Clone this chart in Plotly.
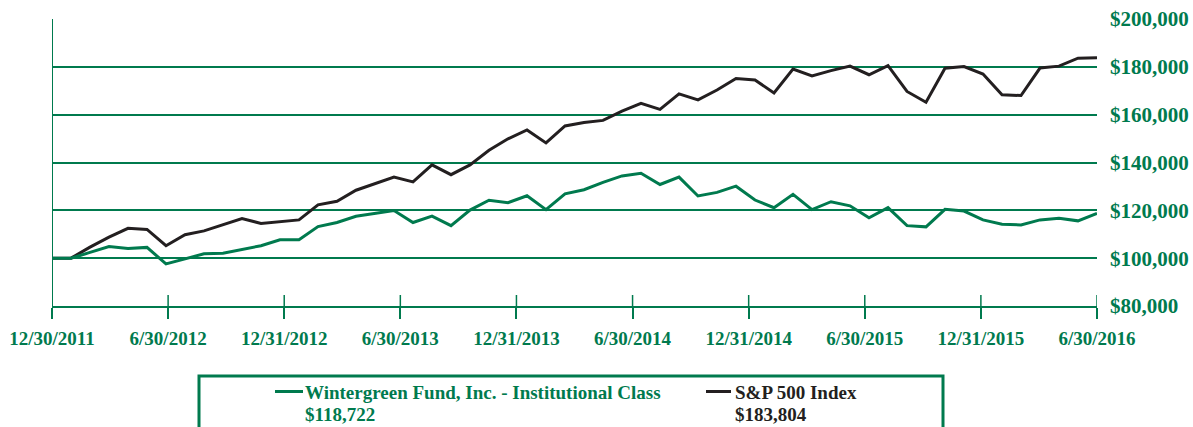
import numpy as np
import plotly.graph_objects as go

# ---------------- data (values in US$) ----------------
tick_labels = ["12/30/2011", "6/30/2012", "12/31/2012", "6/30/2013", "12/31/2013",
               "6/30/2014", "12/31/2014", "6/30/2015", "12/31/2015", "6/30/2016"]

fund_name = "Wintergreen Fund, Inc. - Institutional Class"
fund_values = [100.0, 100.0, 102.4, 104.9, 104.0, 104.5, 97.6, 99.8, 101.8, 102.1,
               103.6, 105.2, 107.7, 107.7, 113.2, 114.9, 117.5, 118.75, 119.9, 114.9,
               117.6, 113.6, 120.1, 124.2, 123.2, 126.1, 120.3, 126.9, 128.6, 131.7,
               134.4, 135.5, 130.8, 133.9, 126.0, 127.5, 130.1, 124.3, 121.1, 126.7,
               120.3, 123.6, 121.9, 116.9, 121.1, 113.6, 113.1, 120.4, 119.7, 116.0,
               114.2, 113.9, 116.0, 116.7, 115.6, 118.722]

index_name = "S&P 500 Index"
index_values = [100.0, 100.0, 104.6, 108.8, 112.5, 112.0, 105.2, 109.8, 111.4, 113.9,
                116.6, 114.5, 115.1, 116.0, 122.3, 123.8, 128.4, 131.3, 133.9, 131.9,
                139.0, 134.9, 139.0, 145.1, 149.9, 153.6, 148.2, 155.3, 156.7, 157.6,
                161.5, 164.7, 162.2, 168.7, 166.2, 170.3, 175.1, 174.5, 169.1, 179.1,
                176.2, 178.4, 180.3, 176.7, 180.5, 169.7, 165.2, 179.4, 180.1, 177.0,
                168.3, 168.0, 179.5, 180.3, 183.6, 183.804]

y_ticks = [80000, 100000, 120000, 140000, 160000, 180000, 200000]

title_text = "Investing $100,000, Institutional Class Compared to the S&P 500 Index"

# ---------------- styling ----------------
GREEN = "#007A4E"
BLACK = "#231F20"
W, H = 1193, 427
L, R, T, B = 52, 96, 19, 121
PW, PH = W - L - R, H - T - B

def px(xp):
    return (xp - L) / PW

def py(yp):
    return (H - B - yp) / PH

fund = np.array(fund_values) * 1000
spx = np.array(index_values) * 1000
x = np.arange(len(fund))
tickvals = np.linspace(0, len(fund) - 1, len(tick_labels))

fig = go.Figure()
fig.add_trace(go.Scatter(x=x, y=spx, mode="lines", name=index_name,
                         line=dict(color=BLACK, width=3)))
fig.add_trace(go.Scatter(x=x, y=fund, mode="lines", name=fund_name,
                         line=dict(color=GREEN, width=3)))

xfont = dict(family="Liberation Serif", size=19, color=GREEN, weight="bold")
yfont = dict(family="Liberation Serif", size=21, color=GREEN, weight="bold")

fig.update_layout(
    width=W, height=H,
    margin=dict(l=L, r=R, t=T, b=B, pad=0, autoexpand=False),
    paper_bgcolor="white", plot_bgcolor="white",
    showlegend=False,
    xaxis=dict(range=[0, len(fund) - 1], tickvals=tickvals, ticktext=tick_labels,
               showgrid=False, zeroline=False, automargin=False,
               showline=True, linecolor=GREEN, linewidth=2,
               ticks="outside", ticklen=11, tickcolor=GREEN, tickwidth=1.5,
               tickfont=xfont, ticklabelstandoff=3),
    yaxis=dict(range=[80000, 200000], tickvals=y_ticks,
               ticktext=[f"${v:,.0f}" for v in y_ticks], automargin=False,
               side="right", showgrid=True, gridcolor=GREEN, gridwidth=1.5,
               zeroline=False, showline=False, ticks="",
               tickfont=yfont, ticklabelstandoff=12),
)

shapes = []
# upper halves of the crossing x ticks
for tv in tickvals:
    shapes.append(dict(type="line", xref="x", yref="paper", x0=tv, x1=tv,
                       y0=0, y1=py(295), line=dict(color=GREEN, width=1.5)))
# left frame line
shapes.append(dict(type="line", xref="x", yref="paper", x0=0, x1=0, y0=0, y1=1,
                   line=dict(color=GREEN, width=2)))
# legend box
shapes.append(dict(type="rect", xref="paper", yref="paper",
                   x0=px(199), x1=px(943), y0=py(445), y1=py(376),
                   line=dict(color=GREEN, width=3), fillcolor="rgba(0,0,0,0)"))
# legend keys
shapes.append(dict(type="line", xref="paper", yref="paper", x0=px(275), x1=px(303),
                   y0=py(391.5), y1=py(391.5), line=dict(color=GREEN, width=3)))
shapes.append(dict(type="line", xref="paper", yref="paper", x0=px(706), x1=px(731),
                   y0=py(391.5), y1=py(391.5), line=dict(color=BLACK, width=3)))
fig.update_layout(shapes=shapes)

ann = []
def txt(s, xp, yp, color, size=19):
    ann.append(dict(text=s, xref="paper", yref="paper", x=px(xp), y=py(yp),
                    xanchor="left", yanchor="middle", showarrow=False, borderpad=0,
                    font=dict(family="Liberation Serif", size=size, color=color,
                              weight="bold")))

txt(fund_name, 304, 392, GREEN)
txt(f"${fund[-1]:,.0f}", 304, 414, GREEN)
txt(index_name, 734, 392, BLACK)
txt(f"${spx[-1]:,.0f}", 734, 414, BLACK)

# title (mostly above the visible canvas, as in the reference)
ann.append(dict(text=title_text, xref="paper", yref="paper", x=px(196), y=py(0),
                xanchor="left", yanchor="bottom", showarrow=False, borderpad=0,
                font=dict(family="Liberation Sans", size=20, color="black",
                          weight="bold")))
fig.update_layout(annotations=ann)

fig.write_html("out.html", config={"displayModeBar": False},
               post_script="document.body.style.margin='0';document.body.style.padding='0';")
